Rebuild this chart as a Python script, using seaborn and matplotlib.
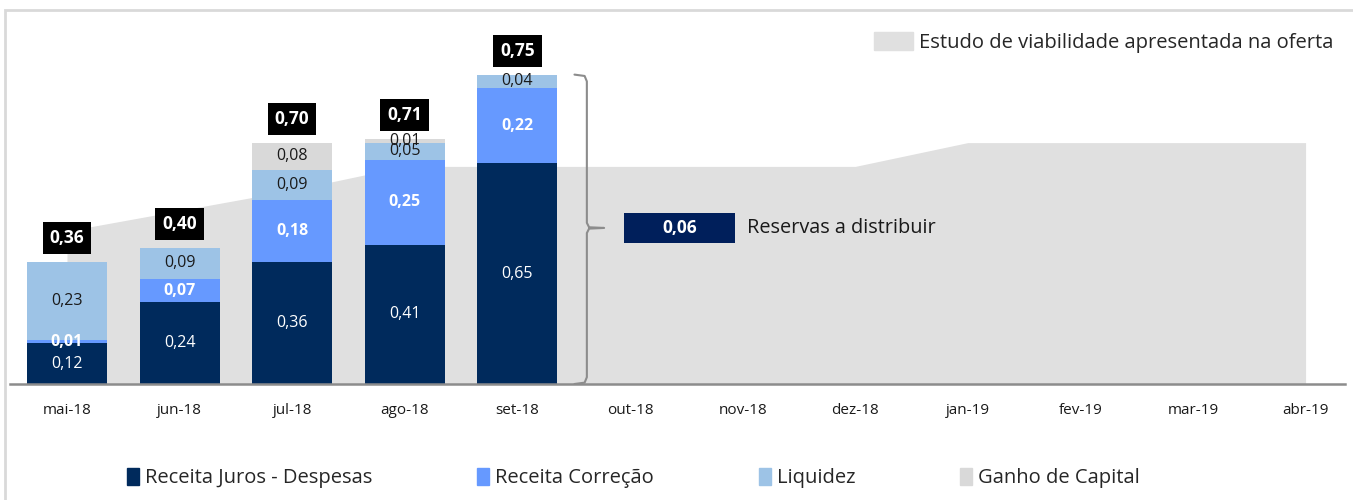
import matplotlib
matplotlib.use("Agg")
import matplotlib.pyplot as plt
import matplotlib.patches as mpatches
import seaborn as sns
import pandas as pd
import numpy as np

# Data
months = ["mai-18", "jun-18", "jul-18", "ago-18", "set-18", "out-18",
          "nov-18", "dez-18", "jan-19", "fev-19", "mar-19", "abr-19"]
juros = [0.12, 0.24, 0.36, 0.41, 0.65]
correcao = [0.01, 0.07, 0.18, 0.25, 0.22]
liquidez = [0.23, 0.09, 0.09, 0.05, 0.04]
ganho = [0.00, 0.00, 0.08, 0.01, 0.00]
totais = [0.36, 0.40, 0.70, 0.71, 0.75]
estudo = [0.45, 0.51, 0.57, 0.64, 0.64, 0.64, 0.64, 0.64, 0.71, 0.71, 0.71, 0.71]
reservas = 0.06

series_names = ["Receita Juros - Despesas", "Receita Correção", "Liquidez", "Ganho de Capital"]
colors = ["#002A5C", "#6699FF", "#9DC3E6", "#D9D9D9"]
label_colors = ["white", "white", "#1a1a1a", "#1a1a1a"]
label_weights = ["normal", "bold", "normal", "normal"]
area_color = "#E0E0E0"
font = "Open Sans"

sns.set_theme(style="white")
plt.rcParams["font.family"] = [font, "DejaVu Sans"]

fig = plt.figure(figsize=(13.53, 5.0), dpi=100)
ax = fig.add_axes([10 / 1353, 116 / 500, 1335 / 1353, 364 / 500])

# background area: feasibility study
ax.fill_between(range(len(months)), estudo, color=area_color, lw=0, zorder=0)

# stacked bars: draw cumulative totals, tallest first
n = len(juros)
layers = [juros, correcao, liquidez, ganho]
cum = np.cumsum(np.array(layers), axis=0)
df = pd.DataFrame({"mes": months[:n]})
for i in reversed(range(len(layers))):
    df["v"] = cum[i]
    sns.barplot(data=df, x="mes", y="v", order=months, color=colors[i],
                saturation=1, width=0.71, ax=ax, zorder=2, linewidth=0)

# segment labels
for i, layer in enumerate(layers):
    for j, v in enumerate(layer):
        if v <= 0:
            continue
        base = cum[i][j] - v
        ax.text(j, base + v / 2, f"{v:.2f}".replace(".", ","), ha="center", va="center",
                color=label_colors[i], fontweight=label_weights[i], fontsize=11.5, zorder=5)

# totals in black boxes
for j, t in enumerate(totais):
    ax.text(j, cum[-1][j] + 0.07, f"{t:.2f}".replace(".", ","), ha="center", va="center",
            color="white", fontweight="bold", fontsize=12.5, zorder=6,
            bbox=dict(boxstyle="square,pad=0.4", fc="black", ec="none"))

# brace next to the last bar
top = cum[-1][n - 1]
mid = 0.459
x0, x1, xt = n - 1 + 0.507, n - 1 + 0.617, n - 1 + 0.77
bx = [x0, x1 - 0.02, x1, x1, x1 + 0.02, xt, x1 + 0.02, x1, x1, x1 - 0.02, x0]
by = [top, top - 0.004, top - 0.02, mid + 0.015, mid + 0.002, mid, mid - 0.002,
      mid - 0.015, 0.02, 0.004, 0.0]
ax.plot(bx, by, color="#8c8c8c", lw=1.5, zorder=4, solid_joinstyle="round")

# reserves box
ax.add_patch(mpatches.Rectangle((n - 1 + 0.95, mid - 0.044), 0.98, 0.088,
                                fc="#001F5B", ec="none", zorder=5))
ax.text(n - 1 + 1.44, mid, f"{reservas:.2f}".replace(".", ","), ha="center", va="center",
        color="white", fontweight="bold", fontsize=12.5, zorder=6)
ax.text(n - 1 + 2.04, mid, "Reservas a distribuir", ha="left", va="center",
        color="#1a1a1a", fontsize=14.3, zorder=6)

ax.set_xlim(-0.506, 11.35)
ax.set_ylim(0, 1.0706)
ax.set_xlabel("")
ax.set_ylabel("")
ax.set_yticks([])
ax.tick_params(axis="x", length=0, pad=14, labelsize=11, labelcolor="#1a1a1a")
for s in ["top", "left", "right"]:
    ax.spines[s].set_visible(False)
ax.spines["bottom"].set_color("#8c8c8c")
ax.spines["bottom"].set_linewidth(1.8)

# top-right legend for the study area
h_area = mpatches.Patch(color=area_color)
ax.legend([h_area], ["Estudo de viabilidade apresentada na oferta"], loc="upper right",
          bbox_to_anchor=(1.0, 1.0), frameon=False, fontsize=14.5, handlelength=1.9,
          handleheight=1.0, handletextpad=0.3, borderaxespad=0.2)

# bottom legend for the series
handles = [mpatches.Patch(color=c) for c in colors]
fig.legend(handles, series_names, loc="center", bbox_to_anchor=(0.468, 0.044), ncol=4,
           frameon=False, fontsize=14.5, handlelength=0.6, handleheight=0.9,
           handletextpad=0.3, columnspacing=5.2)

# light frame around the chart
fig.patches.append(mpatches.Rectangle((5 / 1353, -0.1), 1.2, (490 / 500) + 0.1,
                                      transform=fig.transFigure, fill=False,
                                      ec="#D9D9D9", lw=2))

fig.savefig("out.png", dpi=100)
